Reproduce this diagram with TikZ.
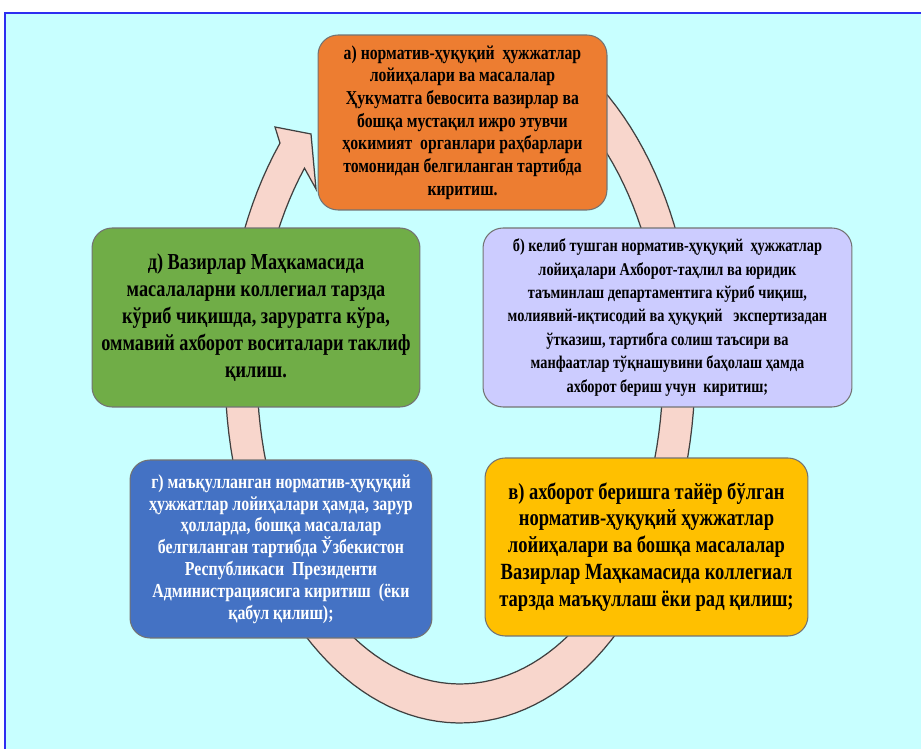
\documentclass[tikz,border=0pt]{standalone}
\usepackage{fontspec}
\setmainfont{Liberation Serif}[FakeStretch=0.8]
\usetikzlibrary{positioning}

\definecolor{bgcyan}{HTML}{C8FFFF}
\definecolor{frameblue}{HTML}{2E2EF0}
\definecolor{ringpink}{HTML}{F8D6CC}
\definecolor{orangebox}{HTML}{ED7D31}
\definecolor{lilacbox}{HTML}{CCCCFF}
\definecolor{greenbox}{HTML}{70AD47}
\definecolor{bluebox}{HTML}{4472C4}
\definecolor{goldbox}{HTML}{FFC000}

\tikzset{
  stage/.style={draw=black!55, line width=0.6pt, rounded corners=0.4cm,
    align=center, inner sep=0pt, text=black},
  cyclering/.style={fill=ringpink, draw=black!75, line width=0.7pt}
}

\begin{document}
\begin{tikzpicture}[x=0.02cm,y=-0.02cm]
    \useasboundingbox (0,0) rectangle (921,749);
    \fill[bgcyan] (5,13) rectangle (921,749);
    \draw[frameblue, line width=1.2pt] (5,749) -- (5,13) -- (921,13);
    % circular arrow behind the boxes
    \draw[cyclering] plot[domain=65:-220, samples=120, variable=\t]
        ({460+235*cos(\t)},{370-353*sin(\t)})
        -- (275,127) -- (311,134) -- (316,189)
        -- plot[domain=-220:65, samples=120, variable=\t]
        ({460+203*cos(\t)},{370-314*sin(\t)}) -- cycle;
    % stages
    \node[stage, fill=orangebox, minimum width=5.78cm, minimum height=3.5cm,
        font=\bfseries\fontsize{11.2}{12.9}\selectfont] (stageA) at (462.5,122.5)
        {а) норматив-ҳуқуқий\ \ ҳужжатлар\\лойиҳалари ва масалалар\\
         Ҳукуматга\ бевосита вазирлар ва\\бошқа мустақил ижро этувчи\\
         ҳокимият\ \ органлари раҳбарлари\\томонидан белгиланган тартибда\\киритиш.};
    \node[stage, fill=lilacbox, minimum width=7.38cm, minimum height=3.58cm,
        font=\bfseries\fontsize{10.2}{13.3}\selectfont] (stageB) at (667.5,317.5)
        {б) келиб тушган норматив-ҳуқуқий\ \ ҳужжатлар\\
         лойиҳалари Ахборот-таҳлил ва юридик\\
         таъминлаш департаментига кўриб чиқиш,\\
         молиявий-иқтисодий ва ҳуқуқий\ \ \ экспертизадан\\
         ўтказиш, тартибга солиш таъсири ва\\
         манфаатлар тўқнашувини баҳолаш ҳамда\\
         ахборот бериш учун\ \ киритиш;};
    \node[stage, fill=goldbox, minimum width=6.46cm, minimum height=3.56cm,
        font=\bfseries\fontsize{13.2}{15.3}\selectfont] (stageC) at (646.5,547)
        {в) ахборот беришга тайёр бўлган\\норматив-ҳуқуқий ҳужжатлар\\
         лойиҳалари ва бошқа масалалар\\Вазирлар Маҳкамасида коллегиал\\
         тарзда маъқуллаш ёки рад қилиш;};
    \node[stage, fill=bluebox, text=white, minimum width=6.04cm, minimum height=3.56cm,
        font=\bfseries\fontsize{11.3}{12.4}\selectfont] (stageD) at (281,549)
        {г) маъқулланган норматив-ҳуқуқий\\ҳужжатлар лойиҳалари ҳамда, зарур\\
         ҳолларда, бошқа масалалар\\белгиланган тартибда Ўзбекистон\\
         Республикаси\ \ Президенти\\Администрациясига киритиш\ \ (ёки\\қабул қилиш);};
    \node[stage, fill=greenbox, minimum width=6.56cm, minimum height=3.58cm,
        font=\bfseries\fontsize{13}{15.3}\selectfont] (stageE) at (256,317.5)
        {д) Вазирлар Маҳкамасида\\масалаларни коллегиал тарзда\\
         кўриб чиқишда, заруратга кўра,\\оммавий ахборот воситалари таклиф\\қилиш.};
\end{tikzpicture}
\end{document}
